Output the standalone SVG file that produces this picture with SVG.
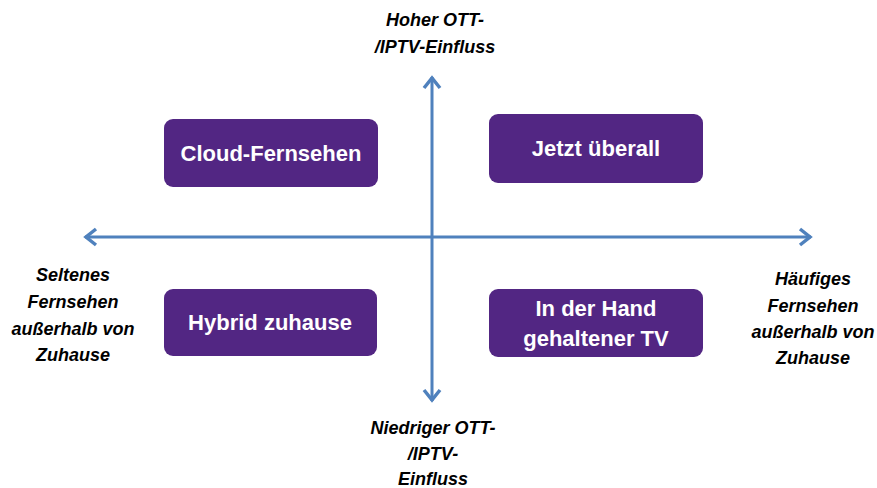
<svg xmlns="http://www.w3.org/2000/svg" width="877" height="488" viewBox="0 0 877 488">
<style>
.box{fill:#522683;}
.bt{font-family:"Liberation Sans",Arial,sans-serif;font-weight:bold;font-size:22px;fill:#fff;text-anchor:middle;}
.lb{font-family:"Liberation Sans",Arial,sans-serif;font-weight:bold;font-style:italic;font-size:18px;fill:#000;text-anchor:middle;}
.ax{stroke:#4F81BD;stroke-width:3;fill:none;}
.hd{stroke:#4F81BD;stroke-width:3.5;fill:none;stroke-linecap:butt;stroke-linejoin:miter;}
</style>
<rect width="877" height="488" fill="#fff"/>
<g id="connectors">
<line class="ax" x1="85" y1="237" x2="811" y2="237"/>
<line class="ax" x1="432" y1="77" x2="432" y2="401"/>
<polyline class="hd" points="96,229 86,237 96,245"/>
<polyline class="hd" points="800,229 810,237 800,245"/>
<polyline class="hd" points="424,88 432,78 440,88"/>
<polyline class="hd" points="424,390 432,400 440,390"/>
</g>
<g id="n-cloud">
<rect class="box" x="164" y="119" width="214" height="68" rx="9"/>
<text class="bt" x="271" y="161">Cloud-Fernsehen</text>
</g>
<g id="n-jetzt">
<rect class="box" x="489" y="114" width="214" height="69" rx="9"/>
<text class="bt" x="596" y="156">Jetzt überall</text>
</g>
<g id="n-hybrid">
<rect class="box" x="164" y="289" width="213" height="67" rx="9"/>
<text class="bt" x="270" y="330">Hybrid zuhause</text>
</g>
<g id="n-hand">
<rect class="box" x="489" y="289" width="214" height="68" rx="9"/>
<text class="bt" x="596" y="316">In der Hand</text>
<text class="bt" x="596" y="346">gehaltener TV</text>
</g>
<g id="l-top">
<text class="lb" x="435" y="26">Hoher OTT-</text>
<text class="lb" x="435" y="53">/IPTV-Einfluss</text>
</g>
<g id="l-bottom">
<text class="lb" x="433" y="434">Niedriger OTT-</text>
<text class="lb" x="433" y="460">/IPTV-</text>
<text class="lb" x="433" y="485">Einfluss</text>
</g>
<g id="l-left">
<text class="lb" x="73" y="281">Seltenes</text>
<text class="lb" x="73" y="308">Fernsehen</text>
<text class="lb" x="73" y="335">außerhalb von</text>
<text class="lb" x="73" y="361">Zuhause</text>
</g>
<g id="l-right">
<text class="lb" x="813" y="285">Häufiges</text>
<text class="lb" x="813" y="312">Fernsehen</text>
<text class="lb" x="813" y="338">außerhalb von</text>
<text class="lb" x="813" y="364">Zuhause</text>
</g>
</svg>
